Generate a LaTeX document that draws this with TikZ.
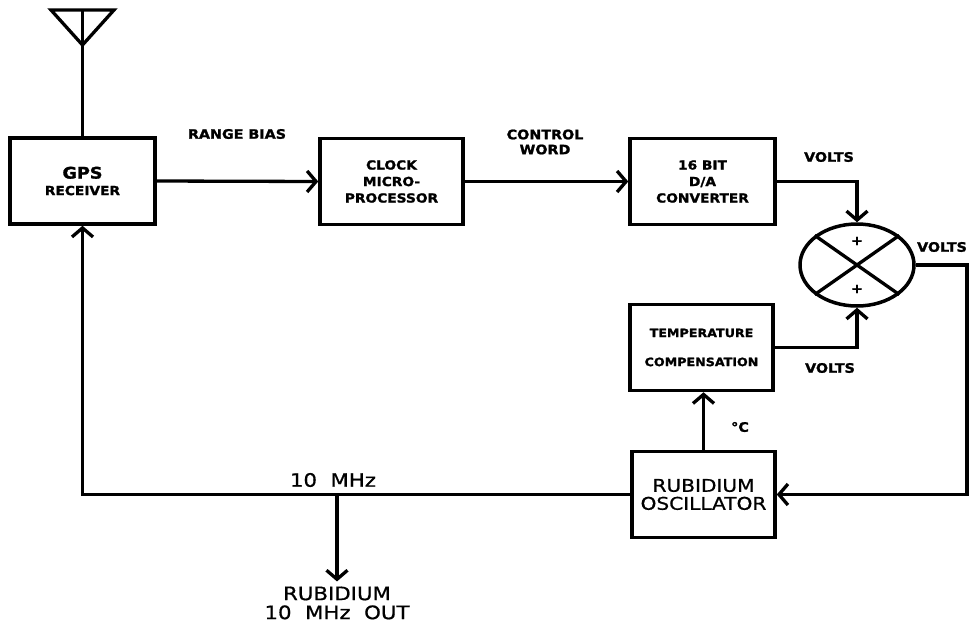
\documentclass[tikz,border=0pt]{standalone}
\usepackage{fontspec}
\usetikzlibrary{arrows.meta,shapes.geometric,calc}
\newfontfamily\lblfont{DejaVu Sans}[FakeStretch=1.1,FakeBold=1.5]
\newfontfamily\bigfont{DejaVu Sans}[FakeStretch=1.15,FakeBold=0.8,WordSpace=2]

\tikzset{
    block/.style={draw,line width=3.5pt,minimum width=143pt,minimum height=86pt,align=center,inner sep=0pt,
        font=\lblfont\bfseries\fontsize{12.5}{16.5}\selectfont},
    lbl/.style={inner sep=0pt,align=center,font=\lblfont\bfseries\fontsize{13}{15}\selectfont},
    big/.style={inner sep=0pt,align=center,font=\bigfont\fontsize{18.5}{19}\selectfont},
    wire/.style={line width=3.3pt},
    arr/.style={wire,-{Straight Barb[length=9pt,width=21pt,line width=3.3pt]}}
}

\begin{document}
\begin{tikzpicture}[x=1pt,y=-1pt]
                \useasboundingbox (0,0) rectangle (971,624);
                % blocks
                \node[block,minimum width=145pt] (gps) at (82.5,181) {{\fontsize{16}{20}\selectfont GPS}\\RECEIVER};
                \node[block] (clk) at (391.5,181.5) {CLOCK\\MICRO-\\PROCESSOR};
                \node[block,minimum width=145pt] (dac) at (702.5,181.5) {16 BIT\\D/A\\CONVERTER};
                \node[block,font=\lblfont\bfseries\fontsize{11.5}{29}\selectfont] (temp) at (701.5,347.5) {TEMPERATURE\\COMPENSATION};
                \node[block,font=\bigfont\fontsize{17.5}{18}\selectfont] (rub) at (703.5,494.5) {RUBIDIUM\\OSCILLATOR};
                \node[ellipse,draw,line width=3.5pt,minimum width=114pt,minimum height=82pt] (sum) at (857,265) {};
                \draw[wire] (sum.35)--(sum.215);
                \draw[wire] (sum.145)--(sum.325);
                \node[lbl] (plusa) at (857,241) {+};
                \node[lbl] (plusb) at (857,289) {+};
                % antenna
                \coordinate (ant) at (82.5,10);
                \draw[wire,line join=miter] (51,10)--(114,10)--(82.5,45)--cycle;
                \draw[wire] (ant)--(gps.north);
                % signal paths
                \draw[arr] (gps.east)--(clk.west);
                \draw[arr] (clk.east)--(dac.west);
                \draw[arr] (dac.east)-|(sum.north);
                \draw[arr] (temp.east)-|(sum.south);
                \coordinate (rt) at (967,265);
                \draw[arr] (sum.east)--(rt)|-(rub.east);
                \draw[arr] (rub.north)--(rub.north|-temp.south);
                \draw[arr] (rub.west)-|(gps.south);
                \node[big] (out) at (337,603) {RUBIDIUM\\10 MHz OUT};
                \coordinate (tap) at (337,494.5);
                \draw[arr,shorten >=5pt] (tap)--(out.north);
                % labels
                \node[lbl] (rb) at (237,134) {RANGE BIAS};
                \node[lbl] (cw) at (545,142) {CONTROL\\WORD};
                \node[lbl] (va) at (829,157) {VOLTS};
                \node[lbl] (vb) at (942,247) {VOLTS};
                \node[lbl] (vc) at (830,368) {VOLTS};
                \node[lbl] (dc) at (740,427) {°C};
                \node[big] (mhz) at (333,480) {10 MHz};
            \end{tikzpicture}
\end{document}
